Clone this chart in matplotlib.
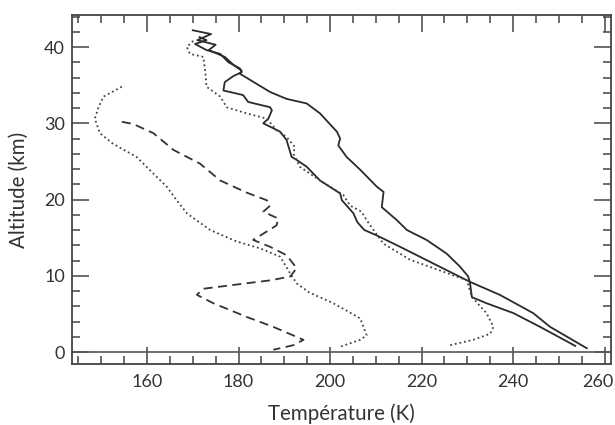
"""Temperature profiles: altitude vs temperature."""
import matplotlib
matplotlib.use("Agg")
import matplotlib.pyplot as plt
from matplotlib.ticker import MultipleLocator
from matplotlib.transforms import ScaledTranslation

plt.rcParams['font.family'] = ['Lato', 'DejaVu Sans']

# solid profile, warmer between 10 and 30 km
temp_r = [170.0, 174.0, 171.0, 175.0, 173.5, 177.0, 179.0, 180.7, 180.3, 186.9,
          190.5, 194.9, 197.8, 201.5, 202.2, 201.8, 203.6, 206.6, 210.2, 211.7,
          211.3, 214.6, 216.8, 221.1, 225.5, 228.4, 230.2, 230.6, 231.0, 234.2,
          240.1, 245.9, 253.6]
alt_r = [42.2, 41.7, 40.9, 40.3, 39.6, 38.7, 37.6, 36.9, 36.5, 34.1,
         33.2, 32.6, 31.3, 28.9, 28.0, 27.1, 25.6, 23.9, 21.7, 21.0,
         19.0, 17.3, 16.0, 14.7, 12.9, 11.2, 9.9, 9.0, 7.2, 6.4,
         5.1, 3.3, 0.8]

# second solid profile
temp_l = [171.5, 173.0, 170.5, 173.0, 176.0, 177.8, 180.3, 180.7, 178.9, 177.0,
          176.7, 181.0, 182.1, 186.9, 187.3, 186.5, 185.4, 189.1, 190.5, 191.6,
          192.7, 194.9, 197.8, 202.2, 202.6, 205.1, 206.0, 207.5, 210.2, 215.3,
          222.6, 230.6, 237.1, 244.4, 248.1, 256.1]
alt_l = [41.3, 40.9, 40.4, 39.6, 39.1, 38.0, 37.2, 36.7, 36.2, 35.4,
         34.3, 33.7, 32.8, 32.1, 31.7, 30.6, 30.0, 28.9, 27.8, 25.6,
         25.2, 24.3, 22.5, 20.8, 19.9, 18.2, 17.0, 16.0, 15.3, 13.8,
         11.6, 9.2, 7.5, 5.1, 3.3, 0.5]

# dotted profile close to the solid ones
temp_d1 = [170.1, 168.7, 169.4, 172.3, 172.7, 173.0, 176.0, 177.4, 181.8, 186.2,
           188.3, 190.5, 192.3, 192.0, 193.4, 197.8, 202.9, 204.4, 206.9, 208.0,
           209.5, 211.7, 217.5, 224.0, 229.9, 231.0, 234.2, 235.7, 235.0, 231.3,
           226.2]
alt_d1 = [40.8, 40.0, 39.1, 38.7, 37.0, 34.8, 33.5, 32.1, 31.3, 30.6,
          29.1, 28.2, 26.9, 26.0, 24.3, 22.5, 20.6, 19.2, 18.4, 17.3,
          16.0, 14.2, 12.1, 10.7, 9.4, 7.2, 5.1, 3.3, 2.4, 1.6,
          0.9]

# cold dotted profile
temp_d2 = [154.5, 150.5, 149.4, 148.6, 149.7, 152.6, 157.7, 161.4, 164.3, 166.5,
           168.7, 173.8, 179.6, 184.7, 189.1, 191.3, 192.7, 195.5, 200.7, 204.0,
           206.6, 208.0, 206.6, 202.2]
alt_d2 = [34.8, 33.5, 32.1, 30.6, 28.7, 27.3, 25.6, 23.4, 21.7, 19.9,
          18.2, 16.0, 14.5, 13.6, 12.5, 10.3, 9.0, 7.8, 6.4, 5.3,
          4.4, 2.2, 1.6, 0.7]

# dashed profile
temp_da = [154.5, 157.0, 161.4, 165.8, 171.6, 176.0, 181.8, 186.2, 186.9, 185.4,
           188.7, 188.3, 183.2, 186.9, 190.5, 192.7, 191.3, 186.9, 178.9, 172.3,
           170.9, 174.5, 181.8, 187.6, 194.2, 192.0, 187.6]
alt_da = [30.2, 29.9, 28.7, 26.5, 24.7, 22.5, 20.9, 19.9, 19.2, 18.4,
          17.5, 16.6, 14.7, 13.8, 12.7, 11.0, 9.9, 9.4, 8.8, 8.3,
          7.5, 6.4, 4.6, 3.3, 1.6, 0.9, 0.3]

fig = plt.figure(figsize=(6.15, 4.25), dpi=100)
ax = fig.add_axes([0.117, 0.1435, 0.8765, 0.8212])

ax.plot(temp_r, alt_r, '-', color='#2a2a2a', lw=1.3)
ax.plot(temp_l, alt_l, '-', color='#2a2a2a', lw=1.3)
ax.plot(temp_d1, alt_d1, color='#444444', lw=1.3, dashes=(1, 1.6))
ax.plot(temp_d2, alt_d2, color='#444444', lw=1.3, dashes=(1, 1.6))
ax.plot(temp_da, alt_da, color='#333333', lw=1.3, dashes=(5, 3))
ax.axhline(0, color='#555555', lw=1.2)

ax.set_xlim(143.6, 261.4)
ax.set_ylim(-1.57, 44.2)
ax.xaxis.set_major_locator(MultipleLocator(20))
ax.xaxis.set_minor_locator(MultipleLocator(5))
ax.yaxis.set_major_locator(MultipleLocator(10))
ax.yaxis.set_minor_locator(MultipleLocator(2))
ax.tick_params(which='both', direction='in', top=True, right=True,
               color='#444444', width=1.1, labelsize=13, labelcolor='#333333')
ax.tick_params(which='major', length=12)
ax.tick_params(which='minor', length=6)
ax.tick_params(axis='x', pad=7)
ax.tick_params(axis='y', pad=5)
for sp in ax.spines.values():
    sp.set_color('#444444')
    sp.set_linewidth(1.3)

ax.set_xlabel("Température (K)", fontsize=14.8, color='#333333', labelpad=10)
ax.set_ylabel("Altitude (km)", fontsize=14.8, color='#333333', labelpad=11)

# keep the last x tick label inside the figure, as in the original
fig.canvas.draw()
for lab in ax.get_xticklabels():
    if lab.get_text() == '260':
        lab.set_horizontalalignment('right')
        lab.set_transform(lab.get_transform()
                          + ScaledTranslation(9 / 100, 0, fig.dpi_scale_trans))

fig.savefig("out.png", dpi=100)
